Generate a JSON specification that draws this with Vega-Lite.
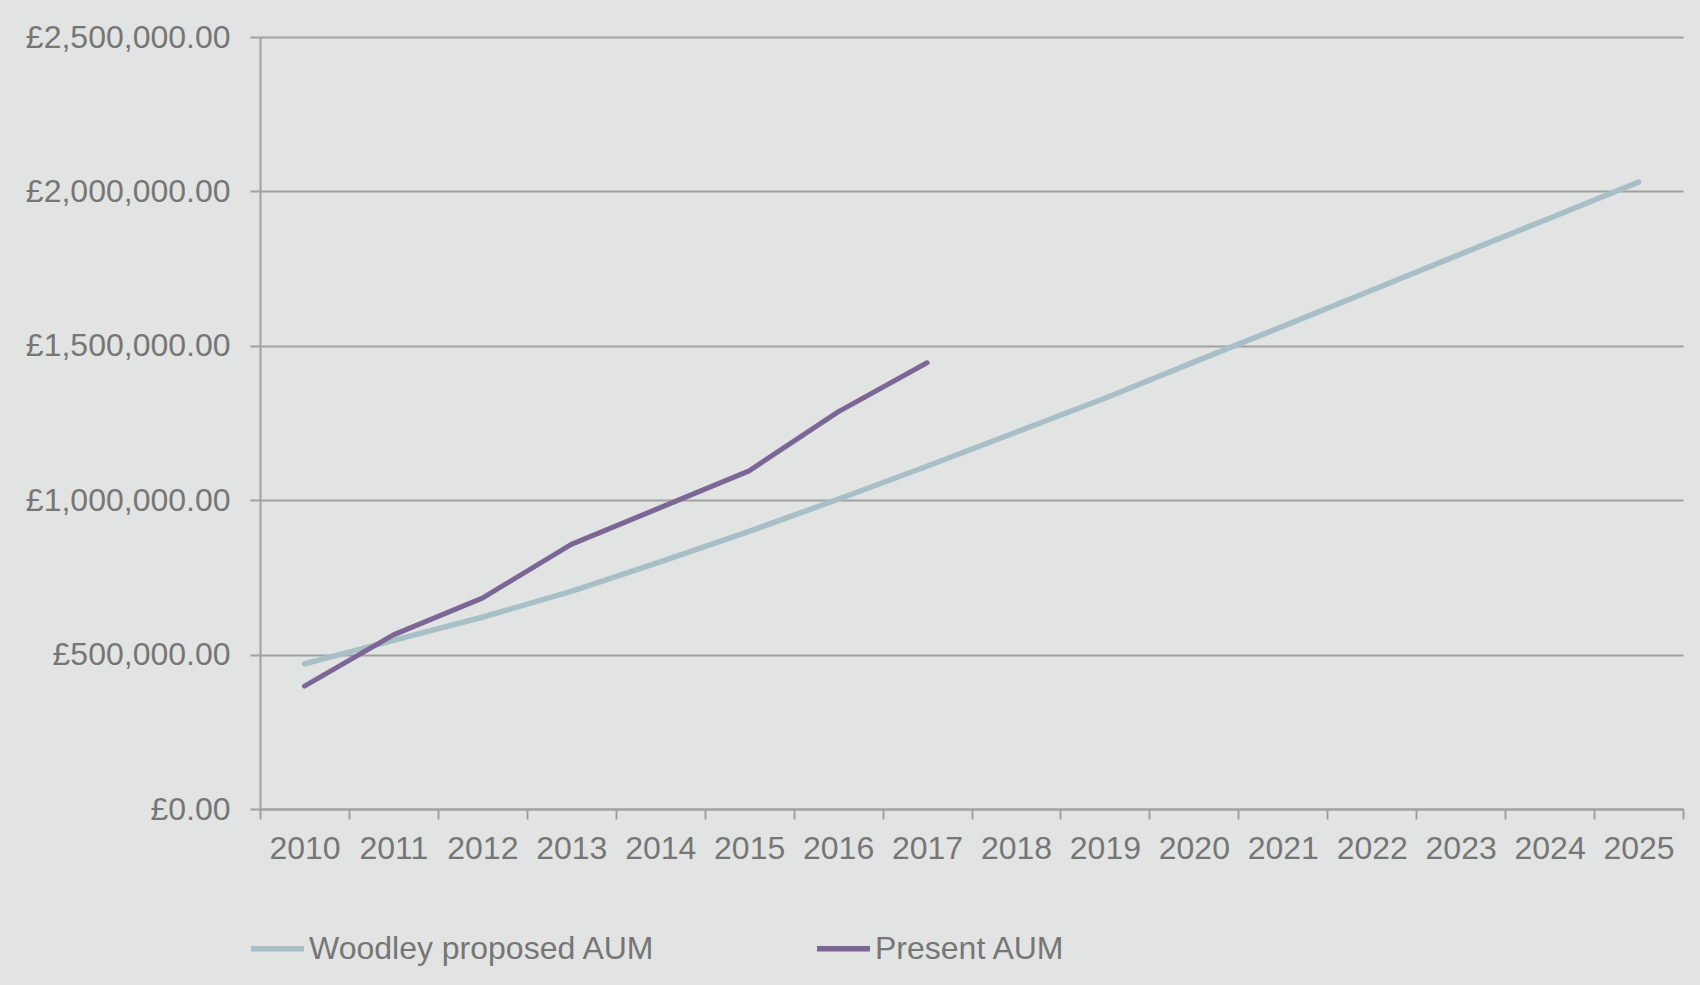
{
  "$schema": "https://vega.github.io/schema/vega-lite/v6.json",
  "width": 1423,
  "height": 772,
  "autosize": {"type": "none"},
  "padding": {"left": 260, "top": 37, "right": 17, "bottom": 176},
  "background": "#e2e4e3",
  "config": {
    "view": {"stroke": null},
    "font": "Liberation Sans",
    "axis": {"labelFont": "Liberation Sans", "labelColor": "#767676", "domainColor": "#a0a0a0", "tickColor": "#a0a0a0", "gridColor": "#a0a0a0", "domainWidth": 2, "tickWidth": 2, "gridWidth": 2, "labelLimit": 0}
  },
  "data": {
    "values": [
      {"year": "2010", "series": "Woodley proposed AUM", "value": 470000},
      {"year": "2011", "series": "Woodley proposed AUM", "value": 546000},
      {"year": "2012", "series": "Woodley proposed AUM", "value": 621000},
      {"year": "2013", "series": "Woodley proposed AUM", "value": 705000},
      {"year": "2014", "series": "Woodley proposed AUM", "value": 800000},
      {"year": "2015", "series": "Woodley proposed AUM", "value": 899000},
      {"year": "2016", "series": "Woodley proposed AUM", "value": 1003000},
      {"year": "2017", "series": "Woodley proposed AUM", "value": 1110000},
      {"year": "2018", "series": "Woodley proposed AUM", "value": 1220000},
      {"year": "2019", "series": "Woodley proposed AUM", "value": 1330000},
      {"year": "2020", "series": "Woodley proposed AUM", "value": 1447000},
      {"year": "2021", "series": "Woodley proposed AUM", "value": 1563000},
      {"year": "2022", "series": "Woodley proposed AUM", "value": 1680000},
      {"year": "2023", "series": "Woodley proposed AUM", "value": 1797000},
      {"year": "2024", "series": "Woodley proposed AUM", "value": 1913000},
      {"year": "2025", "series": "Woodley proposed AUM", "value": 2030000},
      {"year": "2010", "series": "Present AUM", "value": 398000},
      {"year": "2011", "series": "Present AUM", "value": 564000},
      {"year": "2012", "series": "Present AUM", "value": 683000},
      {"year": "2013", "series": "Present AUM", "value": 857000},
      {"year": "2014", "series": "Present AUM", "value": 976000},
      {"year": "2015", "series": "Present AUM", "value": 1095000},
      {"year": "2016", "series": "Present AUM", "value": 1286000},
      {"year": "2017", "series": "Present AUM", "value": 1445000}
    ]
  },
  "mark": {"type": "line", "strokeCap": "round", "strokeJoin": "round"},
  "encoding": {
    "x": {
      "field": "year",
      "type": "ordinal",
      "scale": {"type": "band", "paddingInner": 0, "paddingOuter": 0, "domain": ["2010","2011","2012","2013","2014","2015","2016","2017","2018","2019","2020","2021","2022","2023","2024","2025"]},
      "axis": {"title": null, "labelAngle": 0, "labelFontSize": 32, "tickBand": "extent", "tickSize": 10, "labelPadding": 14, "grid": false}
    },
    "y": {
      "field": "value",
      "type": "quantitative",
      "scale": {"domain": [0, 2500000], "nice": false},
      "axis": {"title": null, "values": [0, 500000, 1000000, 1500000, 2000000, 2500000], "labelExpr": "'£' + format(datum.value, ',.2f')", "labelFontSize": 32, "tickSize": 10, "labelPadding": 20, "grid": true}
    },
    "color": {
      "field": "series",
      "type": "nominal",
      "scale": {"domain": ["Woodley proposed AUM", "Present AUM"], "range": ["#a8bfc7", "#7b6695"]},
      "legend": {
        "title": null,
        "orient": "none",
        "direction": "horizontal",
        "legendX": -12,
        "legendY": 882,
        "symbolType": "stroke",
        "symbolSize": 2809,
        "symbolStrokeWidth": 5.5,
        "labelFontSize": 32,
        "labelLimit": 0,
        "labelColor": "#767676",
        "labelOffset": 2,
        "columnPadding": 150
      }
    },
    "strokeWidth": {
      "condition": {"test": "datum.series === 'Present AUM'", "value": 5},
      "value": 5.5
    }
  }
}
